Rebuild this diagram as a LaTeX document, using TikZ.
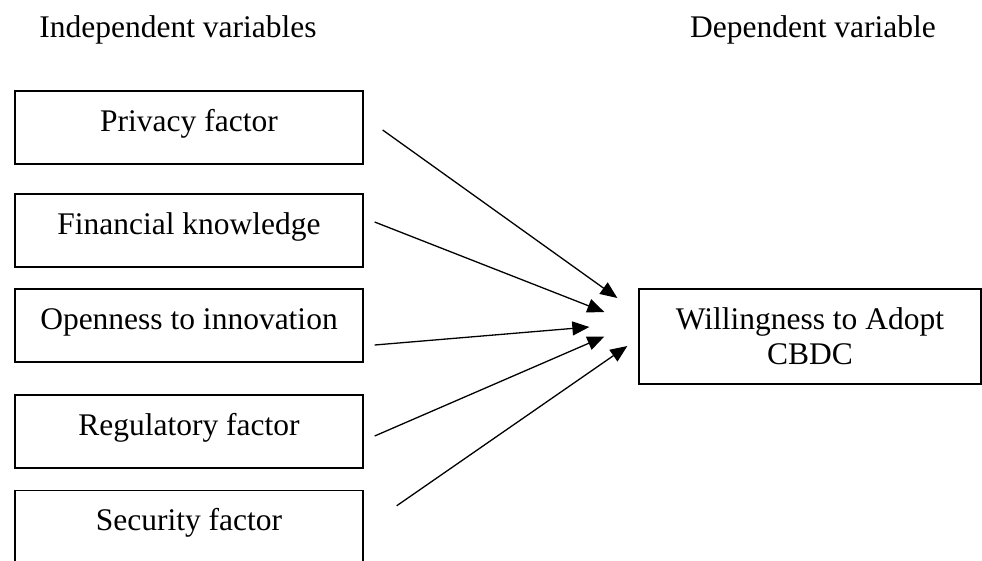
\documentclass[tikz,border=0pt]{standalone}
\usepackage{fontspec}
\setmainfont{Liberation Serif}
\usetikzlibrary{positioning,arrows.meta}

\begin{document}
\begin{tikzpicture}[x=1pt, y=-1pt, every node/.style={font=\fontsize{31.5}{35}\selectfont}]
\tikzset{
  box/.style={draw, line width=1.3pt, minimum width=348pt, minimum height=73pt, text height=24pt, text depth=16pt, inner sep=0pt},
  target/.style={draw, line width=1.3pt, align=center, minimum width=342pt, minimum height=95pt},
  arrow/.style={-{Triangle[length=17pt,width=14pt]}, line width=1.3pt}
}
\clip (0,0) rectangle (982,560);

% Headers
\node (indep) at (178,30) {Independent variables};
\node (dep) at (813,30) {Dependent variable};

% Nodes
\node[box] (priv) at (189,127.5) {Privacy factor};
\node[box, below=28.7pt of priv] (fin) {Financial knowledge};
\node[box, below=20.7pt of fin] (open) {Openness to innovation};
\node[box, below=31.7pt of open] (reg) {Regulatory factor};
\node[box, below=21pt of reg] (sec) {Security factor};
\node[target] (will) at (810,336.5) {Willingness to Adopt\\CBDC};

% Arrows
\draw[arrow] ([xshift=19pt, yshift=-2.5pt]priv.east) -- ([xshift=-21pt, yshift=38.5pt]will.west);
\draw[arrow] ([xshift=11pt, yshift=8.5pt]fin.east) -- ([xshift=-34pt, yshift=24.5pt]will.west);
\draw[arrow] ([xshift=11pt, yshift=-19.5pt]open.east) -- ([xshift=-49pt, yshift=9.5pt]will.west);
\draw[arrow] ([xshift=11pt, yshift=-4.5pt]reg.east) -- ([xshift=-34pt]will.west);
\draw[arrow] ([xshift=33pt, yshift=21pt]sec.east) -- ([xshift=-11pt, yshift=-9.5pt]will.west);
\end{tikzpicture}
\end{document}
